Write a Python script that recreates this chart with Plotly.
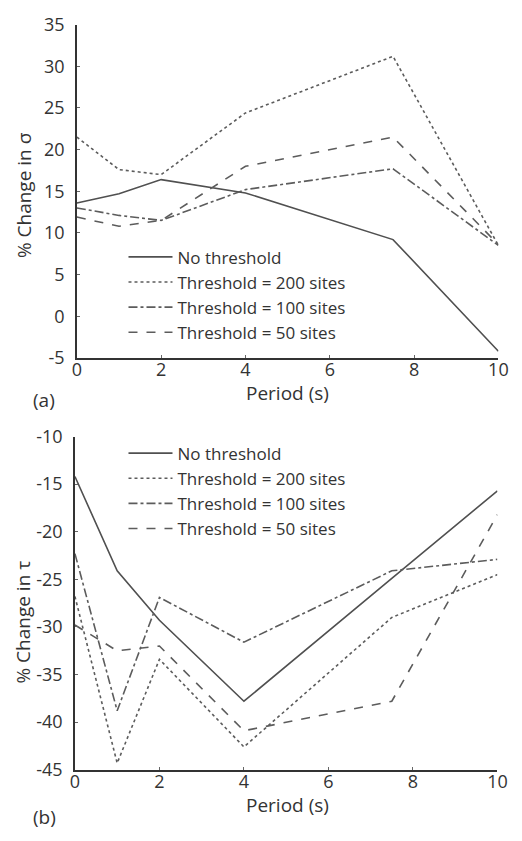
import plotly.graph_objects as go

periods = [0, 1, 2, 4, 7.5, 10]
series_names = ["No threshold", "Threshold = 200 sites", "Threshold = 100 sites", "Threshold = 50 sites"]

sigma_none = [13.6, 14.7, 16.4, 14.8, 9.2, -4.2]
sigma_200 = [21.5, 17.6, 17.0, 24.4, 31.2, 8.5]
sigma_100 = [13.0, 12.1, 11.5, 15.2, 17.7, 8.5]
sigma_50 = [11.9, 10.8, 11.5, 18.0, 21.5, 8.6]

tau_none = [-14.2, -24.1, -29.3, -37.8, -24.9, -15.7]
tau_200 = [-26.8, -44.3, -33.4, -42.6, -29.0, -24.5]
tau_100 = [-22.3, -38.8, -26.9, -31.6, -24.1, -22.9]
tau_50 = [-29.8, -32.5, -32.0, -40.9, -37.8, -18.2]

x_ticks = [0, 2, 4, 6, 8, 10]
x_tick_labels = ["0", "2", "4", "6", "8", "10"]
sigma_ticks = [-5, 0, 5, 10, 15, 20, 25, 30, 35]
sigma_tick_labels = ["-5", "0", "5", "10", "15", "20", "25", "30", "35"]
tau_ticks = [-45, -40, -35, -30, -25, -20, -15, -10]
tau_tick_labels = ["-45", "-40", "-35", "-30", "-25", "-20", "-15", "-10"]

dashes = ["solid", "dot", "dashdot", "dash"]
colors = ["#505050", "#5c5c5c", "#5c5c5c", "#5c5c5c"]
FONT = "Open Sans"
TXT = "#333333"

W, H = 522, 841
def px_x(p):
    return p / W
def px_y(p):
    return 1 - p / H

fig = go.Figure()
for name, ys, d, c in zip(series_names, [sigma_none, sigma_200, sigma_100, sigma_50], dashes, colors):
    fig.add_trace(go.Scatter(x=periods, y=ys, mode="lines", name=name,
                             line=dict(color=c, dash=d, width=1.6),
                             xaxis="x", yaxis="y", legend="legend"))
for name, ys, d, c in zip(series_names, [tau_none, tau_200, tau_100, tau_50], dashes, colors):
    fig.add_trace(go.Scatter(x=periods, y=ys, mode="lines", name=name,
                             line=dict(color=c, dash=d, width=1.6),
                             xaxis="x2", yaxis="y2", legend="legend2"))

axis_common = dict(showgrid=False, zeroline=False, showline=True, linecolor="#333", linewidth=1.5,
                   ticks="inside", ticklen=3, tickcolor="#666", tickwidth=1,
                   tickfont=dict(family=FONT, size=18, color=TXT))
title_font = dict(family=FONT, size=19, color=TXT)

def ann(text, x, y, angle=0, xanchor="center"):
    return dict(text=text, x=px_x(x), y=px_y(y), xref="paper", yref="paper",
                xanchor=xanchor, yanchor="middle", textangle=angle,
                showarrow=False, font=title_font)

fig.update_layout(
    width=W, height=H,
    margin=dict(l=0, r=0, t=0, b=0),
    plot_bgcolor="white", paper_bgcolor="white",
    font=dict(family=FONT, color=TXT),
    xaxis=dict(domain=[px_x(74), px_x(508)], range=[0, 10], tickvals=x_ticks, ticktext=x_tick_labels,
               anchor="y", ticklabelstandoff=-5, **axis_common),
    yaxis=dict(domain=[px_y(355), px_y(12)], range=[-5, 35], tickvals=sigma_ticks, ticktext=sigma_tick_labels,
               anchor="x", ticklabelstandoff=7, **axis_common),
    xaxis2=dict(domain=[px_x(72), px_x(507)], range=[0, 10], tickvals=x_ticks, ticktext=x_tick_labels,
                anchor="y2", ticklabelstandoff=-5, **axis_common),
    yaxis2=dict(domain=[px_y(779), px_y(436)], range=[-45, -10], tickvals=tau_ticks, ticktext=tau_tick_labels,
                anchor="x2", ticklabelstandoff=7, **axis_common),
    legend=dict(x=px_x(122), y=px_y(233), xanchor="left", yanchor="top",
                bgcolor="rgba(0,0,0,0)", font=dict(family=FONT, size=17, color=TXT),
                itemwidth=44, tracegroupgap=0),
    legend2=dict(x=px_x(122), y=px_y(435), xanchor="left", yanchor="top",
                 bgcolor="rgba(0,0,0,0)", font=dict(family=FONT, size=17, color=TXT),
                 itemwidth=44, tracegroupgap=0),
    annotations=[
        ann("Period (s)", 291, 391),
        ann("Period (s)", 291, 815),
        ann("% Change in σ", 19, 187, angle=-90),
        ann("% Change in τ", 19, 627, angle=-90),
        ann("(a)", 27, 398, xanchor="left"),
        ann("(b)", 27, 828, xanchor="left"),
    ],
)

fig.write_html("out.html")
